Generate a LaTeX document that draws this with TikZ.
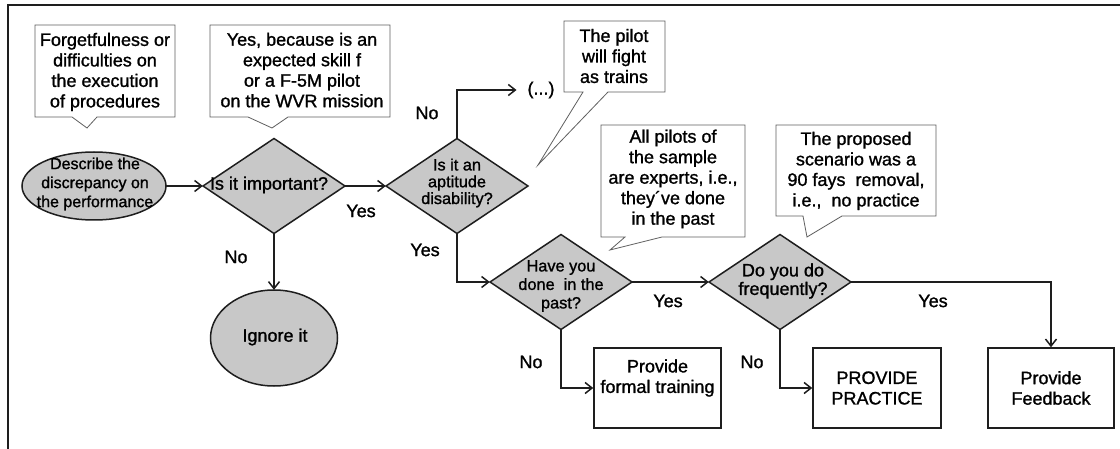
\documentclass[tikz,border=0pt]{standalone}
\usepackage{fontspec}
\setmainfont{Liberation Sans}[FakeBold=1.2]
\usetikzlibrary{arrows.meta}
\definecolor{shapegray}{RGB}{200,200,200}
\definecolor{calloutline}{RGB}{95,95,95}
\definecolor{linecol}{RGB}{30,30,30}
\newcommand\diashape[3]{%
  \filldraw[shapefill] ({#2-71},#3) -- (#2,{#3-47.5}) -- ({#2+71},#3) -- (#2,{#3+47.5}) -- cycle;
  \node[holder, minimum width=142pt, minimum height=95pt] (#1) at (#2,#3) {};}
\begin{document}
\begin{tikzpicture}[x=1pt,y=-1pt,
  big/.style={font=\fontsize{18}{20.5}\selectfont},
  txt/.style={big, align=center, inner sep=0pt},
  smalltxt/.style={font=\fontsize{16.3}{18.5}\selectfont, align=center, inner sep=0pt},
  shapefill/.style={fill=shapegray, draw=linecol, line width=1.5pt},
  holder/.style={draw=none, inner sep=0pt},
  boxst/.style={draw=linecol, line width=1.5pt, minimum height=80pt, inner sep=0pt, align=center, big},
  callout/.style={draw=calloutline, line width=0.8pt, fill=white, line join=miter},
  conn/.style={draw=linecol, line width=1.5pt, -{Straight Barb[length=7pt,width=11pt]}},
  frame/.style={draw=linecol, line width=1.5pt},
  lab/.style={big, inner sep=0pt}
]
\fill[white] (0,0) rectangle (1120,449);
\useasboundingbox (0,0) rectangle (1120,449);
\draw[frame] (8,449) -- (8,5) -- (1120,5);

% callouts
\draw[callout] (35,25) -- (175,25) -- (175,117) -- (97,117) -- (87,128) -- (72,117) -- (35,117) -- cycle;
\node[txt] (c1) at (105,72) {Forgetfulness or\\difficulties on\\the execution\\of procedures};
\draw[callout] (210,25) -- (390,25) -- (390,117) -- (288,117) -- (272,128) -- (248,117) -- (210,117) -- cycle;
\node[txt] (c2) at (302,70) {Yes, because is an\\expected skill f\\or a F-5M pilot\\on the WVR mission};
\draw[callout] (564,21) -- (665,21) -- (665,92) -- (608,92) -- (538,165) -- (583,92) -- (564,92) -- cycle;
\node[txt] (c3) at (614,56) {The pilot\\will fight\\as trains};
\draw[callout] (601,125) -- (745,125) -- (745,237) -- (662,237) -- (610,250) -- (625,237) -- (601,237) -- cycle;
\node[txt] (c4) at (673,179) {All pilots of\\the sample\\are experts, i.e.,\\they´ve done\\in the past};
\draw[callout] (776,125) -- (936,125) -- (936,216) -- (842,216) -- (807,237) -- (803,216) -- (776,216) -- cycle;
\node[txt] (c5) at (856,171) {The proposed\\scenario was a\\90 fays~ removal,\\i.e.,~ no practice};

% start ellipse
\filldraw[shapefill] (94,186) ellipse [x radius=72pt, y radius=34pt];
\node[holder, minimum width=144pt, minimum height=68pt] (start) at (94,186) {};
\node[font=\fontsize{16}{19}\selectfont, align=center, inner sep=0pt] (startt) at (95,184) {Describe the\\discrepancy on\\the performance};

% ignore ellipse
\filldraw[shapefill] (274,338) ellipse [x radius=63.5pt, y radius=48pt];
\node[holder, minimum width=127pt, minimum height=96pt] (ign) at (274,338) {};
\node[txt] (ignt) at (275,337) {Ignore it};

% diamonds
\diashape{d1}{274}{186}
\node[txt] (d1t) at (269,185) {Is it important?};
\diashape{d2}{457}{186}
\node[font=\fontsize{16.3}{16.8}\selectfont, align=center, inner sep=0pt] (d2t) at (457,183) {Is it an\\aptitude\\disability?};
\diashape{d3}{561}{282}
\node[smalltxt] (d3t) at (561,286) {Have you\\done~ in the\\past?};
\diashape{d4}{780}{282}
\node[font=\fontsize{18}{18.5}\selectfont, align=center, inner sep=0pt] (d4t) at (783,281) {Do you do\\frequently?};

% result boxes
\node[boxst, minimum width=127pt] (ft) at (657.5,388) {};
\node[txt] (ftt) at (657.5,378) {Provide\\formal training};
\node[boxst, minimum width=128pt] (pp) at (877,388) {PROVIDE\\PRACTICE};
\node[boxst, minimum width=126pt] (fb) at (1051,388) {Provide\\Feedback};

\node[lab, outer xsep=11pt] (dots) at (541,90) {(...)};

% connectors
\draw[conn] (start.east) -- (d1.west);
\draw[conn] (d1.east) -- (d2.west);
\draw[conn] (d1.south) -- (ign.north);
\draw[conn] (d2.north) |- (dots.west);
\draw[conn] (d2.south) |- (d3.west);
\draw[conn] (d3.east) -- (d4.west);
\draw[conn] (d3.south) |- (ft.west);
\draw[conn] (d4.south) |- (pp.west);
\draw[conn] (d4.east) -| (fb.north);

% labels
\node[lab] (l1) at (361,211) {Yes};
\node[lab] (l2) at (236,257) {No};
\node[lab] (l3) at (427,113) {No};
\node[lab] (l4) at (425,250) {Yes};
\node[lab] (l5) at (668,301) {Yes};
\node[lab] (l6) at (531,362) {No};
\node[lab] (l7) at (933,301) {Yes};
\node[lab] (l8) at (752,362) {No};
\end{tikzpicture}
\end{document}
